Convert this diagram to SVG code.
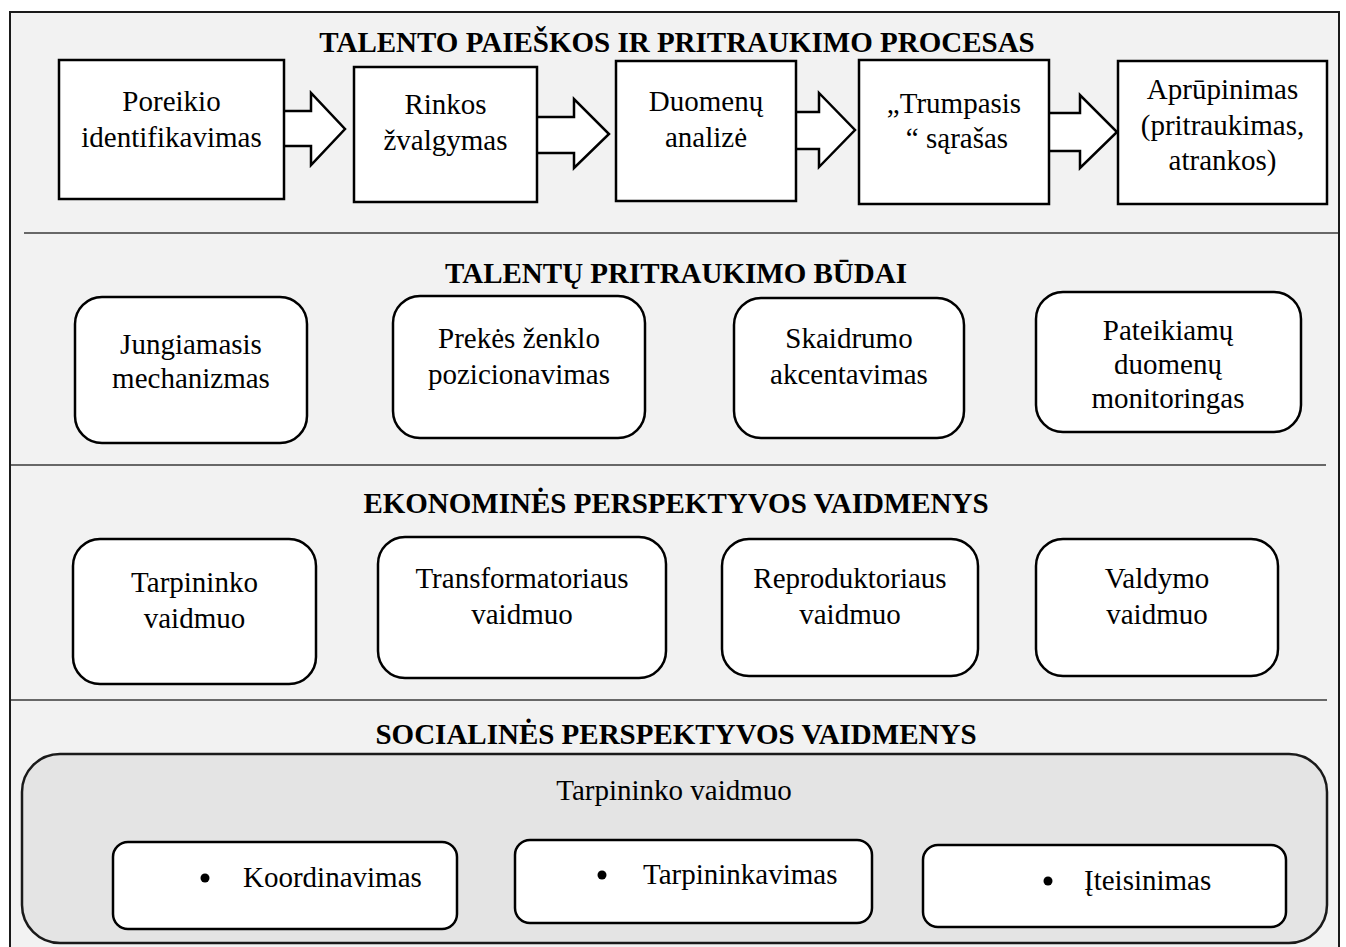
<svg xmlns="http://www.w3.org/2000/svg" width="1346" height="947" viewBox="0 0 1346 947">
  <style>
    .frame { fill: #f2f2f2; stroke: #1a1a1a; stroke-width: 2; }
    .divider { stroke: #3a3a3a; stroke-width: 1.6; }
    .box { fill: #ffffff; stroke: #000000; stroke-width: 2.5; }
    .arrow { fill: #ffffff; stroke: #000000; stroke-width: 2.5; stroke-linejoin: miter; }
    .panel { fill: #e4e4e4; stroke: #1a1a1a; stroke-width: 2.5; }
    .title { font-family: "Liberation Serif", "Times New Roman", serif; font-size: 29px; font-weight: bold; fill: #000; text-anchor: middle; }
    .label { font-family: "Liberation Serif", "Times New Roman", serif; font-size: 29px; fill: #000; text-anchor: middle; }
    .item { font-family: "Liberation Serif", "Times New Roman", serif; font-size: 29px; fill: #000; }
  </style>

  <!-- outer frame -->
  <rect class="frame" x="10" y="12" width="1329" height="940"/>

  <!-- section dividers -->
  <g id="dividers">
    <line class="divider" x1="24" y1="233" x2="1338" y2="233"/>
    <line class="divider" x1="11" y1="465" x2="1326" y2="465"/>
    <line class="divider" x1="11" y1="700" x2="1327" y2="700"/>
  </g>

  <!-- section headings -->
  <g id="headings">
    <text class="title" x="677" y="52">TALENTO PAIEŠKOS IR PRITRAUKIMO PROCESAS</text>
    <text class="title" x="676" y="283">TALENTŲ PRITRAUKIMO BŪDAI</text>
    <text class="title" x="676" y="513">EKONOMINĖS PERSPEKTYVOS VAIDMENYS</text>
    <text class="title" x="676" y="744">SOCIALINĖS PERSPEKTYVOS VAIDMENYS</text>
  </g>

  <!-- process connectors (block arrows) -->
  <g id="connectors">
    <path class="arrow" d="M284,111 H311 V93 L345,129 L311,165 V146 H284"/>
    <path class="arrow" d="M537,117 H574 V99 L609,134 L574,168 V153 H537"/>
    <path class="arrow" d="M796,112 H819 V93 L855,130 L819,167 V149 H796"/>
    <path class="arrow" d="M1049,113 H1080 V95 L1117,132 L1080,168 V151 H1049"/>
  </g>

  <!-- process steps -->
  <g id="step-poreikio">
    <rect class="box" x="59" y="60" width="225" height="139"/>
    <text class="label" x="171.5" y="111">Poreikio</text>
    <text class="label" x="171.5" y="147">identifikavimas</text>
  </g>
  <g id="step-rinkos">
    <rect class="box" x="354" y="67" width="183" height="135"/>
    <text class="label" x="445.5" y="114">Rinkos</text>
    <text class="label" x="445.5" y="150">žvalgymas</text>
  </g>
  <g id="step-duomenu">
    <rect class="box" x="616" y="61" width="180" height="140"/>
    <text class="label" x="706" y="111">Duomenų</text>
    <text class="label" x="706" y="147">analizė</text>
  </g>
  <g id="step-trumpasis">
    <rect class="box" x="859" y="60" width="190" height="144"/>
    <text class="label" x="954" y="113">„Trumpasis</text>
    <text class="label" x="957" y="148">“ sąrašas</text>
  </g>
  <g id="step-aprupinimas">
    <rect class="box" x="1118" y="61" width="209" height="143"/>
    <text class="label" x="1222.5" y="99">Aprūpinimas</text>
    <text class="label" x="1222.5" y="135">(pritraukimas,</text>
    <text class="label" x="1222.5" y="170">atrankos)</text>
  </g>

  <!-- attraction methods -->
  <g id="method-jungiamasis">
    <rect class="box" x="75" y="297" width="232" height="146" rx="27"/>
    <text class="label" x="191" y="354">Jungiamasis</text>
    <text class="label" x="191" y="388">mechanizmas</text>
  </g>
  <g id="method-prekes">
    <rect class="box" x="393" y="296" width="252" height="142" rx="27"/>
    <text class="label" x="519" y="348">Prekės ženklo</text>
    <text class="label" x="519" y="384">pozicionavimas</text>
  </g>
  <g id="method-skaidrumo">
    <rect class="box" x="734" y="298" width="230" height="140" rx="27"/>
    <text class="label" x="849" y="348">Skaidrumo</text>
    <text class="label" x="849" y="384">akcentavimas</text>
  </g>
  <g id="method-pateikiamu">
    <rect class="box" x="1036" y="292" width="265" height="140" rx="27"/>
    <text class="label" x="1168" y="340">Pateikiamų</text>
    <text class="label" x="1168" y="374">duomenų</text>
    <text class="label" x="1168" y="408">monitoringas</text>
  </g>

  <!-- economic roles -->
  <g id="econ-tarpininko">
    <rect class="box" x="73" y="539" width="243" height="145" rx="27"/>
    <text class="label" x="194.5" y="592">Tarpininko</text>
    <text class="label" x="194.5" y="628">vaidmuo</text>
  </g>
  <g id="econ-transformatoriaus">
    <rect class="box" x="378" y="537" width="288" height="141" rx="27"/>
    <text class="label" x="522" y="588">Transformatoriaus</text>
    <text class="label" x="522" y="624">vaidmuo</text>
  </g>
  <g id="econ-reproduktoriaus">
    <rect class="box" x="722" y="539" width="256" height="137" rx="27"/>
    <text class="label" x="850" y="588">Reproduktoriaus</text>
    <text class="label" x="850" y="624">vaidmuo</text>
  </g>
  <g id="econ-valdymo">
    <rect class="box" x="1036" y="539" width="242" height="137" rx="27"/>
    <text class="label" x="1157" y="588">Valdymo</text>
    <text class="label" x="1157" y="624">vaidmuo</text>
  </g>

  <!-- social role panel -->
  <g id="social-tarpininko">
    <rect class="panel" x="22" y="754" width="1305" height="189" rx="38"/>
    <text class="label" x="674" y="800">Tarpininko vaidmuo</text>
  </g>
  <g id="social-koordinavimas">
    <rect class="box" x="113" y="842" width="344" height="87" rx="15"/>
    <circle cx="205" cy="878" r="4.5" fill="#000"/>
    <text class="item" x="243" y="887">Koordinavimas</text>
  </g>
  <g id="social-tarpininkavimas">
    <rect class="box" x="515" y="840" width="357" height="83" rx="15"/>
    <circle cx="602" cy="875" r="4.5" fill="#000"/>
    <text class="item" x="643" y="884">Tarpininkavimas</text>
  </g>
  <g id="social-iteisinimas">
    <rect class="box" x="923" y="845" width="363" height="82" rx="15"/>
    <circle cx="1048" cy="881" r="4.5" fill="#000"/>
    <text class="item" x="1084" y="890">Įteisinimas</text>
  </g>
</svg>
